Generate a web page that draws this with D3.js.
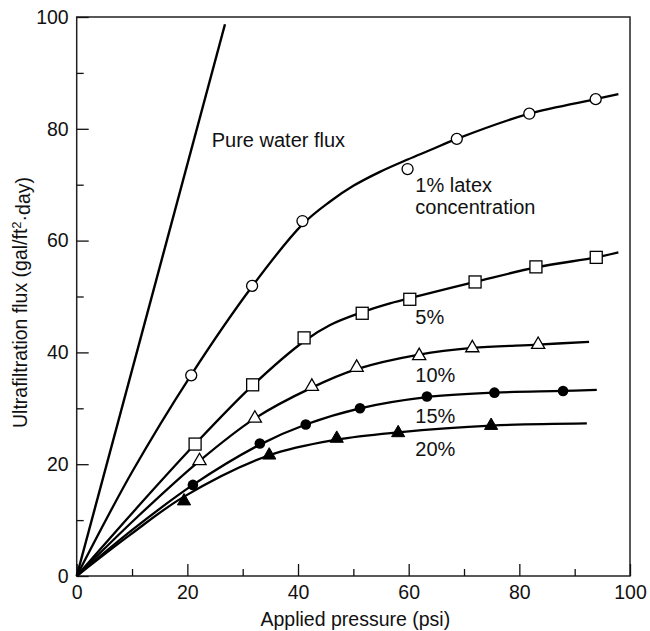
<!DOCTYPE html>
<html>
<head>
<meta charset="utf-8">
<script src="https://cdn.jsdelivr.net/npm/d3@7"></script>
<style>
  html, body { margin: 0; padding: 0; background: #fff; }
  svg text { font-family: "Liberation Sans", Arial, Helvetica, sans-serif; fill: #111; }
</style>
</head>
<body>
<svg id="chart" width="650" height="631"></svg>
<script>
// ---------- data ----------
const xTicks = [0, 20, 40, 60, 80, 100];
const xMinorTicks = [10, 30, 50, 70, 90];
const yTicks = [0, 20, 40, 60, 80, 100];
const yMinorTicks = [10, 30, 50, 70, 90];

// Pure water flux (straight line)
const pureWater = [[0, 0], [26.8, 98.7]];

// Measured points (x: applied pressure psi, y: flux)
const pts1  = [[20.7, 35.9], [31.7, 51.9], [40.8, 63.5], [59.8, 72.8], [68.7, 78.2], [81.8, 82.7], [93.8, 85.3]];
const pts5  = [[21.4, 23.6], [31.8, 34.2], [41.1, 42.6], [51.6, 47.0], [60.2, 49.5], [72.0, 52.6], [83.0, 55.3], [93.9, 57.0]];
const pts10 = [[22.2, 20.6], [32.2, 28.2], [42.5, 33.9], [50.6, 37.3], [61.9, 39.4], [71.5, 40.8], [83.4, 41.4]];
const pts15 = [[21.0, 16.3], [33.1, 23.7], [41.4, 27.1], [51.2, 30.0], [63.3, 32.1], [75.5, 32.8], [87.9, 33.1]];
const pts20 = [[19.4, 13.4], [34.8, 21.6], [47.0, 24.6], [58.1, 25.6], [74.9, 26.9]];

// Fitted curves
const fit1  = [[0, 0], [10, 18.6], [20.7, 36.0], [31.7, 51.8], [40.8, 62.9], [45.8, 67.0], [50.0, 69.8], [54.8, 72.3], [59.8, 74.5], [63.9, 76.2], [68.7, 78.2], [81.8, 82.7], [93.8, 85.3], [97.9, 86.2]];
const fit5  = [[0, 0], [10.7, 12.0], [21.4, 23.6], [31.8, 34.1], [41.1, 42.0], [45.8, 44.9], [51.6, 47.2], [56.0, 48.6], [60.2, 49.7], [72.0, 52.6], [83.0, 55.2], [93.9, 57.0], [97.9, 57.9]];
const fit10 = [[0, 0], [11, 10.6], [22.2, 20.6], [32.2, 28.2], [42.5, 33.7], [50.6, 37.0], [61.9, 39.6], [71.5, 40.8], [83.4, 41.4], [92.6, 41.9]];
const fit15 = [[0, 0], [10.5, 8.6], [21.0, 16.3], [33.1, 23.5], [41.4, 27.1], [51.2, 30.0], [63.3, 32.0], [75.5, 32.8], [87.9, 33.1], [94.0, 33.3]];
const fit20 = [[0, 0], [9.7, 7.4], [19.4, 14.2], [34.8, 21.6], [47.0, 24.4], [58.1, 25.7], [74.9, 26.9], [92.2, 27.3]];

const seriesLabels = [
  { lines: ["Pure water flux"], at: [24.4, 76.8] },
  { lines: ["1% latex", "concentration"], at: [61.2, 68.7] },
  { lines: ["5%"], at: [61.2, 45.1] },
  { lines: ["10%"], at: [61.2, 34.7] },
  { lines: ["15%"], at: [61.2, 27.4] },
  { lines: ["20%"], at: [61.2, 21.4] }
];

// ---------- layout ----------
const svg = d3.select("#chart");
const x = d3.scaleLinear().domain([0, 100]).range([76.7, 630]);
const y = d3.scaleLinear().domain([0, 100]).range([576, 17]);
const FS = 19.5;

// frame
svg.append("rect")
  .attr("x", x(0)).attr("y", y(100))
  .attr("width", x(100) - x(0)).attr("height", y(0) - y(100))
  .attr("fill", "none").attr("stroke", "#222").attr("stroke-width", 1.5);

// axes (ticks pointing inward)
function styleAxis(g) {
  g.select(".domain").remove();
  g.selectAll(".tick line").attr("stroke", "#111").attr("stroke-width", 1.3);
  g.selectAll(".tick text").style("font-size", FS + "px").attr("fill", "#111");
}
svg.append("g").attr("transform", `translate(0,${y(0)})`)
  .call(d3.axisBottom(x).tickValues(xTicks).tickSize(-12).tickPadding(9).tickFormat(d3.format("d")))
  .call(styleAxis);
svg.append("g").attr("transform", `translate(0,${y(0)})`)
  .call(d3.axisBottom(x).tickValues(xMinorTicks).tickSize(-7).tickFormat(""))
  .call(styleAxis);
svg.append("g").attr("transform", `translate(${x(0)},0)`)
  .call(d3.axisLeft(y).tickValues(yTicks).tickSize(-12).tickPadding(8).tickFormat(d3.format("d")))
  .call(styleAxis);
svg.append("g").attr("transform", `translate(${x(0)},0)`)
  .call(d3.axisLeft(y).tickValues(yMinorTicks).tickSize(-7).tickFormat(""))
  .call(styleAxis);

// axis titles
svg.append("text")
  .attr("x", (x(0) + x(100)) / 2 + 2).attr("y", 626)
  .attr("text-anchor", "middle").style("font-size", FS + "px")
  .text("Applied pressure (psi)");

const yt = svg.append("text")
  .attr("transform", `translate(27,${(y(0) + y(100)) / 2 + 6}) rotate(-90)`)
  .attr("text-anchor", "middle").style("font-size", FS + "px");
yt.append("tspan").text("Ultrafiltration flux (gal/ft");
yt.append("tspan").attr("dy", "-0.45em").style("font-size", "13px").text("2");
yt.append("tspan").attr("dy", "0.45em").text("\u00B7day)");

// curves
const line = d3.line().x(d => x(d[0])).y(d => y(d[1])).curve(d3.curveCatmullRom.alpha(0.5));
const lineStraight = d3.line().x(d => x(d[0])).y(d => y(d[1]));
svg.append("path").datum(pureWater).attr("d", lineStraight)
  .attr("fill", "none").attr("stroke", "#000").attr("stroke-width", 2.4);
[fit1, fit5, fit10, fit15, fit20].forEach(f => {
  svg.append("path").datum(f).attr("d", line)
    .attr("fill", "none").attr("stroke", "#000").attr("stroke-width", 2.3);
});

// markers
const mk = svg.append("g");
mk.selectAll("circle.o").data(pts1).join("circle")
  .attr("cx", d => x(d[0])).attr("cy", d => y(d[1])).attr("r", 5.5)
  .attr("fill", "#fff").attr("stroke", "#000").attr("stroke-width", 1.3);
mk.selectAll("rect.s").data(pts5).join("rect")
  .attr("x", d => x(d[0]) - 6).attr("y", d => y(d[1]) - 6)
  .attr("width", 12).attr("height", 12)
  .attr("fill", "#fff").attr("stroke", "#000").attr("stroke-width", 1.3);
const tri = d3.symbol().type(d3.symbolTriangle).size(75);
mk.selectAll("path.t").data(pts10).join("path")
  .attr("transform", d => `translate(${x(d[0])},${y(d[1])})`)
  .attr("d", tri)
  .attr("fill", "#fff").attr("stroke", "#000").attr("stroke-width", 1.3);
mk.selectAll("circle.f").data(pts15).join("circle")
  .attr("cx", d => x(d[0])).attr("cy", d => y(d[1])).attr("r", 5.3)
  .attr("fill", "#000");
mk.selectAll("path.ft").data(pts20).join("path")
  .attr("transform", d => `translate(${x(d[0])},${y(d[1])})`)
  .attr("d", tri)
  .attr("fill", "#000").attr("stroke", "#000").attr("stroke-width", 1);

// series labels
seriesLabels.forEach(l => {
  const t = svg.append("text").attr("x", x(l.at[0])).attr("y", y(l.at[1]))
    .style("font-size", "20px");
  l.lines.forEach((s, i) => {
    t.append("tspan").attr("x", x(l.at[0])).attr("dy", i === 0 ? 0 : 22).text(s);
  });
});
</script>
</body>
</html>
